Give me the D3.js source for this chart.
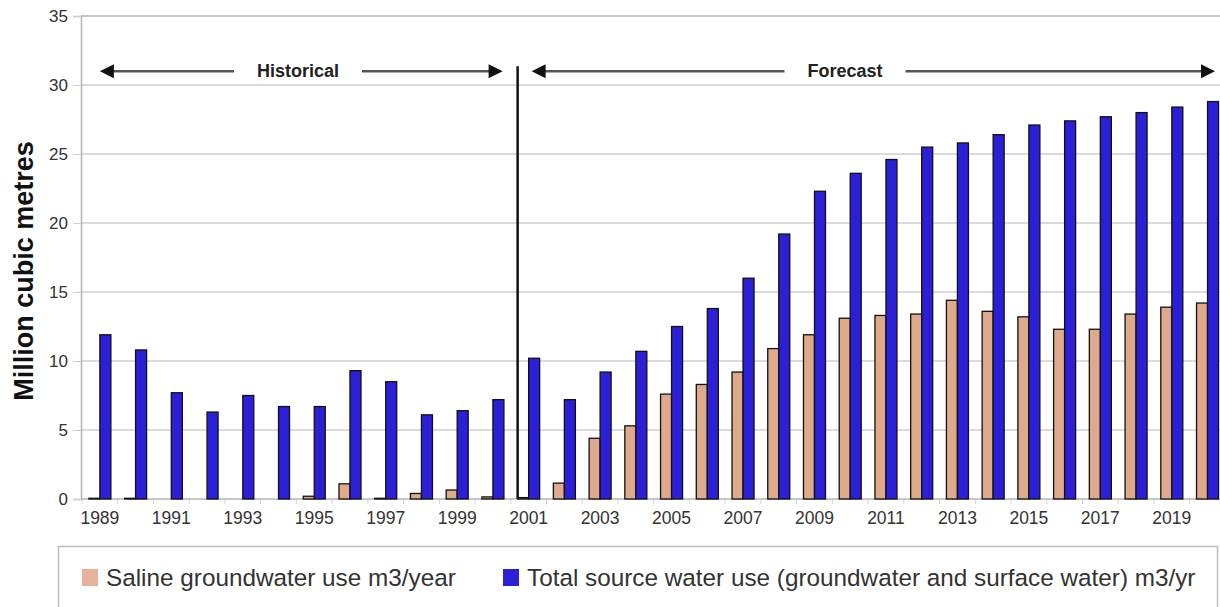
<!DOCTYPE html>
<html>
<head>
<meta charset="utf-8">
<script src="https://cdn.jsdelivr.net/npm/d3@7"></script>
<style>
    body { margin: 0; background: #fff; }
    #chart-area { width: 1220px; height: 607px; overflow: hidden; }
    text { font-family: "Liberation Sans", Arial, sans-serif; }
</style>
</head>
<body>
<div id="chart-area"></div>
<script>

// data (million cubic metres)
let years = [1989, 1990, 1991, 1992, 1993, 1994, 1995, 1996, 1997, 1998, 1999, 2000,
    2001, 2002, 2003, 2004, 2005, 2006, 2007, 2008, 2009, 2010, 2011, 2012,
    2013, 2014, 2015, 2016, 2017, 2018, 2019, 2020];

let salineUse = [0.05, 0.05, 0, 0, 0, 0, 0.2, 1.1, 0.05, 0.4, 0.65, 0.15,
    0.1, 1.15, 4.4, 5.3, 7.6, 8.3, 9.2, 10.9, 11.9, 13.1, 13.3, 13.4,
    14.4, 13.6, 13.2, 12.3, 12.3, 13.4, 13.9, 14.2];

let totalUse = [11.9, 10.8, 7.7, 6.3, 7.5, 6.7, 6.7, 9.3, 8.5, 6.1, 6.4, 7.2,
    10.2, 7.2, 9.2, 10.7, 12.5, 13.8, 16.0, 19.2, 22.3, 23.6, 24.6, 25.5,
    25.8, 26.4, 27.1, 27.4, 27.7, 28.0, 28.4, 28.8];

let seriesKeys = ["saline", "total"];
let seriesNames = ["Saline groundwater use m3/year",
    "Total source water use (groundwater and surface water) m3/yr"];

let yTicks = [0, 5, 10, 15, 20, 25, 30, 35];
let xLabels = [1989, 1991, 1993, 1995, 1997, 1999, 2001, 2003, 2005, 2007,
    2009, 2011, 2013, 2015, 2017, 2019];

let forecastStart = 2001;


class WaterBarChart {

    constructor(parentElement) {
        this.parentElement = parentElement;
        this.colors = {saline: "#dfa98b", total: "#2b20d8"};
        this.legendColors = {saline: "#e6b29a", total: "#2b20d8"};

        this.data = years.map((y, i) => ({year: y, saline: salineUse[i], total: totalUse[i]}));

        this.initVis();
    }

    initVis() {
        let vis = this;

        vis.svg = d3.select("#" + vis.parentElement).append("svg")
            .attr("width", 1220)
            .attr("height", 607);

        // plot area (right side runs off the picture, as in the original)
        vis.left = 81;
        vis.top = 16;
        vis.bottom = 499;

        vis.y = d3.scaleLinear()
            .domain([0, 35])
            .range([vis.bottom, vis.top]);

        vis.x = d3.scaleBand()
            .domain(years)
            .range([82, 1225.4])
            .paddingInner(0.384)
            .paddingOuter(0.192);

        vis.x1 = d3.scaleBand()
            .domain(seriesKeys)
            .range([0, vis.x.bandwidth()]);

        // gridlines
        vis.svg.append("g")
            .attr("class", "grid")
            .selectAll("line")
            .data(yTicks.filter(d => d > 0))
            .enter().append("line")
            .attr("x1", vis.left)
            .attr("x2", 1220)
            .attr("y1", d => vis.y(d))
            .attr("y2", d => vis.y(d))
            .attr("stroke", d => d === 35 ? "#b4b4b4" : "#cfcfcf")
            .attr("stroke-width", 1.5);

        // y axis
        vis.yAxis = d3.axisLeft(vis.y)
            .tickValues(yTicks)
            .tickSize(8)
            .tickPadding(5);

        vis.yAxisGroup = vis.svg.append("g")
            .attr("transform", "translate(" + vis.left + ",0)")
            .call(vis.yAxis);
        vis.yAxisGroup.select(".domain").attr("stroke", "#b4b4b4").attr("stroke-width", 1.5);
        vis.yAxisGroup.selectAll(".tick line").attr("stroke", "#cfcfcf");
        vis.yAxisGroup.selectAll(".tick text")
            .attr("fill", "#333")
            .style("font-size", "17px");

        // y title
        vis.svg.append("text")
            .attr("transform", "translate(33," + 271 + ") rotate(-90)")
            .attr("text-anchor", "middle")
            .style("font-size", "27px")
            .style("font-weight", "bold")
            .attr("fill", "#111")
            .text("Million cubic metres");

        // category boundary ticks under the x axis
        vis.svg.append("g")
            .selectAll("line")
            .data(years)
            .enter().append("line")
            .attr("x1", d => vis.x(d) - vis.x.step() * vis.x.paddingInner() / 2)
            .attr("x2", d => vis.x(d) - vis.x.step() * vis.x.paddingInner() / 2)
            .attr("y1", vis.bottom)
            .attr("y2", vis.bottom + 5)
            .attr("stroke", "#d4d4d4");

        // x labels
        vis.xAxis = d3.axisBottom(vis.x)
            .tickValues(xLabels)
            .tickSize(0)
            .tickPadding(13);

        vis.xAxisGroup = vis.svg.append("g")
            .attr("transform", "translate(0," + vis.bottom + ")")
            .call(vis.xAxis);
        vis.xAxisGroup.select(".domain").remove();
        vis.xAxisGroup.selectAll(".tick text")
            .attr("fill", "#333")
            .style("font-size", "17.5px");

        // x axis line
        vis.svg.append("line")
            .attr("x1", vis.left)
            .attr("x2", 1220)
            .attr("y1", vis.bottom)
            .attr("y2", vis.bottom)
            .attr("stroke", "#b4b4b4")
            .attr("stroke-width", 1.5);

        vis.barGroup = vis.svg.append("g").attr("class", "bars");

        vis.annotate();
        vis.drawLegend();
        vis.updateVis();
    }

    updateVis() {
        let vis = this;

        let groups = vis.barGroup.selectAll(".year")
            .data(vis.data)
            .enter().append("g")
            .attr("class", "year")
            .attr("transform", d => "translate(" + vis.x(d.year) + ",0)");

        groups.selectAll("rect")
            .data(d => seriesKeys.map(k => ({key: k, value: d[k]})))
            .enter().append("rect")
            .attr("x", d => vis.x1(d.key))
            .attr("width", vis.x1.bandwidth())
            .attr("y", d => vis.y(d.value))
            .attr("height", d => vis.y(0) - vis.y(d.value))
            .attr("fill", d => vis.colors[d.key])
            .attr("stroke", "#111")
            .attr("stroke-width", 1.3);
    }

    annotate() {
        let vis = this;

        let arrowY = vis.y(31);
        let splitX = vis.x(forecastStart);

        // divider between history and forecast
        vis.svg.append("line")
            .attr("x1", splitX)
            .attr("x2", splitX)
            .attr("y1", vis.y(31.35))
            .attr("y2", vis.bottom)
            .attr("stroke", "#111")
            .attr("stroke-width", 2.5);

        let arrows = [
            {label: "Historical", from: vis.x(1989) + vis.x.bandwidth() / 2, to: splitX - 15, cx: 298},
            {label: "Forecast", from: splitX + 14, to: 1215, cx: 845}
        ];

        arrows.forEach(a => {
            vis.svg.append("line")
                .attr("x1", a.from + 10)
                .attr("x2", a.to - 10)
                .attr("y1", arrowY)
                .attr("y2", arrowY)
                .attr("stroke", "#555")
                .attr("stroke-width", 2.5);

            // arrow heads
            vis.svg.append("path")
                .attr("d", `M${a.from},${arrowY} l14,-7 l0,14 z`)
                .attr("fill", "#111");
            vis.svg.append("path")
                .attr("d", `M${a.to},${arrowY} l-14,-7 l0,14 z`)
                .attr("fill", "#111");

            let t = vis.svg.append("text")
                .attr("x", a.cx)
                .attr("y", arrowY + 6)
                .attr("text-anchor", "middle")
                .style("font-size", "18px")
                .style("font-weight", "bold")
                .attr("fill", "#222")
                .text(a.label);

            // white gap in the arrow line around the label
            let bb = t.node().getBBox();
            vis.svg.append("rect")
                .attr("x", bb.x - 23)
                .attr("y", arrowY - 5)
                .attr("width", bb.width + 46)
                .attr("height", 10)
                .attr("fill", "#fff");
            t.raise();
        });
    }

    drawLegend() {
        let vis = this;

        vis.legend = vis.svg.append("g").attr("class", "legend");

        vis.legend.append("rect")
            .attr("x", 58.5)
            .attr("y", 546.5)
            .attr("width", 1159)
            .attr("height", 80)
            .attr("fill", "#fff")
            .attr("stroke", "#bdbdbd")
            .attr("stroke-width", 1.5);

        let itemX = [82, 503];

        seriesKeys.forEach((k, i) => {
            vis.legend.append("rect")
                .attr("x", itemX[i])
                .attr("y", 569)
                .attr("width", 16)
                .attr("height", 17)
                .attr("fill", vis.legendColors[k]);

            vis.legend.append("text")
                .attr("x", itemX[i] + 24)
                .attr("y", 586)
                .style("font-size", "24.3px")
                .attr("fill", "#333")
                .text(seriesNames[i]);
        });
    }
}

new WaterBarChart("chart-area");

</script>
</body>
</html>
